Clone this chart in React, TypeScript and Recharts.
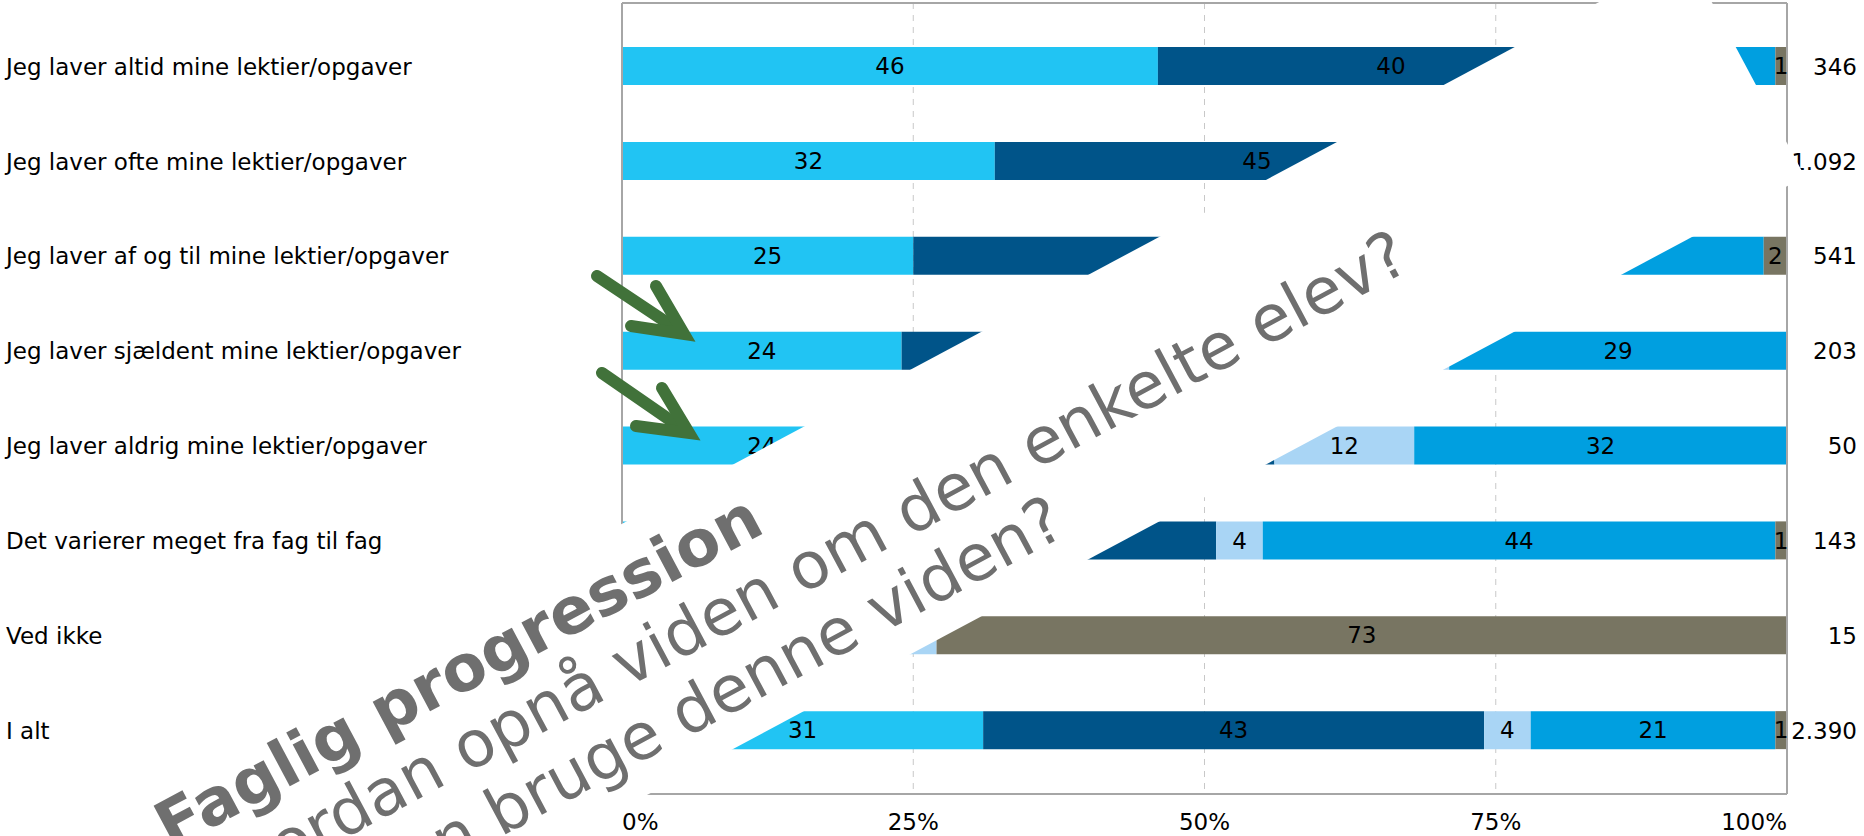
import React from 'react';
import { BarChart, Bar, XAxis, YAxis, CartesianGrid, LabelList } from 'recharts';

// rows of the survey question
const categories = [
  'Jeg laver altid mine lektier/opgaver',
  'Jeg laver ofte mine lektier/opgaver',
  'Jeg laver af og til mine lektier/opgaver',
  'Jeg laver sjældent mine lektier/opgaver',
  'Jeg laver aldrig mine lektier/opgaver',
  'Det varierer meget fra fag til fag',
  'Ved ikke',
  'I alt',
];
const totals = ['346', '1.092', '541', '203', '50', '143', '15', '2.390'];

// percentages per answer (values hidden by the banner are estimated)
const seriesA = [46, 32, 25, 24, 24, 17, 13, 31];
const seriesB = [40, 45, 45, 40, 32, 34, 7, 43];
const seriesC = [3, 3, 5, 7, 12, 4, 7, 4];
const seriesD = [10, 19, 23, 29, 32, 44, 0, 21];
const seriesE = [1, 1, 2, 0, 0, 1, 73, 1];

const xTicks = [0, 25, 50, 75, 100];

const bannerLines = [
  'Faglig progression',
  'Hvordan opnå viden om den enkelte elev?',
  'Hvordan bruge denne viden?',
];

const data = categories.map((name, i) => ({
  name,
  n: totals[i],
  a: seriesA[i],
  b: seriesB[i],
  c: seriesC[i],
  d: seriesD[i],
  e: seriesE[i],
}));

const series = [
  { key: 'a', color: '#21C4F3' },
  { key: 'b', color: '#005489' },
  { key: 'c', color: '#A9D5F5' },
  { key: 'd', color: '#009FE0' },
  { key: 'e', color: '#787562' },
];

const FONT = '"DejaVu Sans", Verdana, sans-serif';
const AXIS = '#A6A6A6';

const LeftTick = (props: any) => {
  const { y, payload } = props;
  return (
    <text x={6} y={y} dy="0.36em" fontSize={23} fontFamily={FONT} fill="#000" textAnchor="start">
      {payload.value}
    </text>
  );
};

const RightTick = (props: any) => {
  const { y, payload } = props;
  return (
    <text x={1857} y={y} dy="0.36em" fontSize={23} fontFamily={FONT} fill="#000" textAnchor="end">
      {payload.value}
    </text>
  );
};

const BottomTick = (props: any) => {
  const { x, y, payload, index } = props;
  const anchor = index === 0 ? 'start' : index === xTicks.length - 1 ? 'end' : 'middle';
  return (
    <text x={x} y={y} dy={28} fontSize={23} fontFamily={FONT} fill="#000" textAnchor={anchor}>
      {payload.value}%
    </text>
  );
};

const Banner = () => (
  <svg
    width={1864}
    height={836}
    style={{ position: 'absolute', left: 0, top: 0, pointerEvents: 'none' }}
  >
    <g transform="rotate(-28.1)">
      <rect x={-700} y={755} width={2209} height={251} fill="#fff" />
      <text x={-250} y={830} fontSize={64.5} fontWeight="bold" fontFamily={FONT} fill="#6F6F6F">
        {bannerLines[0]}
      </text>
      <text x={-246} y={902} fontSize={64.5} fontFamily={FONT} fill="#6F6F6F">
        {bannerLines[1]}
      </text>
      <text x={-246} y={974} fontSize={64.5} fontFamily={FONT} fill="#6F6F6F">
        {bannerLines[2]}
      </text>
    </g>
    {/* green arrows */}
    <g stroke="#41723A" strokeWidth={12} fill="none" strokeLinecap="round" strokeLinejoin="miter">
      <line x1={597} y1={276} x2={678} y2={330} />
      <polyline points="656,286 684,334 631,326" />
      <line x1={602} y1={373} x2={683} y2={429} />
      <polyline points="662,388 689,433 636,426" />
    </g>
  </svg>
);

export default function App() {
  return (
    <div style={{ position: 'absolute', left: 0, top: 0, width: 1864, height: 836, background: '#fff' }}>
      <BarChart
        width={1864}
        height={836}
        data={data}
        layout="vertical"
        margin={{ top: 2, right: 0, left: 0, bottom: 0 }}
        barSize={38}
      >
        <CartesianGrid horizontal={false} stroke="#C8C8C8" strokeDasharray="6 6" />
        <XAxis
          type="number"
          domain={[0, 100]}
          ticks={xTicks}
          height={42}
          axisLine={{ stroke: AXIS, strokeWidth: 2 }}
          tickLine={false}
          tick={<BottomTick />}
          interval={0}
        />
        <XAxis
          xAxisId="top"
          orientation="top"
          type="number"
          domain={[0, 100]}
          ticks={xTicks}
          allowDataOverflow
          height={1}
          axisLine={{ stroke: AXIS, strokeWidth: 2 }}
          tickLine={false}
          tick={false}
        />
        <YAxis
          type="category"
          dataKey="name"
          width={622}
          padding={{ top: 16, bottom: 16 }}
          axisLine={{ stroke: AXIS, strokeWidth: 2 }}
          tickLine={false}
          tick={<LeftTick />}
          interval={0}
        />
        <YAxis
          yAxisId="n"
          orientation="right"
          type="category"
          dataKey="n"
          width={77}
          padding={{ top: 16, bottom: 16 }}
          axisLine={{ stroke: AXIS, strokeWidth: 2 }}
          tickLine={false}
          tick={<RightTick />}
          interval={0}
        />
        {series.map((s) => (
          <Bar key={s.key} dataKey={s.key} stackId="x" fill={s.color} isAnimationActive={false}>
            <LabelList
              dataKey={s.key}
              position="center"
              fill="#000"
              fontSize={23}
              fontFamily={FONT}
              formatter={(v: any) => (v ? v : '')}
            />
          </Bar>
        ))}
      </BarChart>
      <Banner />
    </div>
  );
}
